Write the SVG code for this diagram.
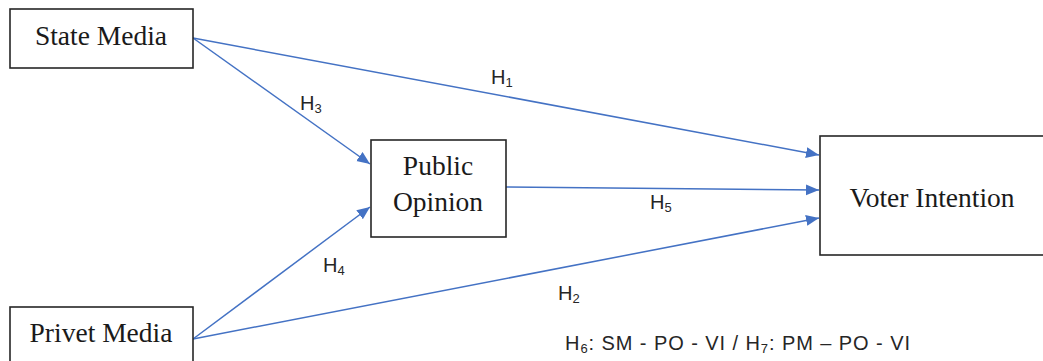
<svg xmlns="http://www.w3.org/2000/svg" width="1043" height="361" viewBox="0 0 1043 361">
<style>
.box{fill:#fff;stroke:#262626;stroke-width:1.6}
.nt{font-family:"Liberation Serif","Times New Roman",serif;font-size:27.5px;fill:#1a1a1a;text-anchor:middle}
.conn{stroke:#4472C4;stroke-width:1.5;fill:none}
.lb{font-family:"Liberation Sans",Arial,sans-serif;font-size:20px;fill:#262626}
.sub{font-size:13px}
</style>
<defs>
<marker id="ah" markerUnits="userSpaceOnUse" markerWidth="14" markerHeight="12" refX="13" refY="5.5" orient="auto">
<path d="M0,0 L13,5.5 L0,11 z" fill="#4472C4"/>
</marker>
</defs>
<rect width="1043" height="361" fill="#fff"/>
<g id="connectors">
<path class="conn" d="M193,38 L819,155" marker-end="url(#ah)"/>
<path class="conn" d="M193,38 L370,164" marker-end="url(#ah)"/>
<path class="conn" d="M506,187 L819,190" marker-end="url(#ah)"/>
<path class="conn" d="M193,339 L370,207" marker-end="url(#ah)"/>
<path class="conn" d="M193,339 L819,218" marker-end="url(#ah)"/>
</g>
<g id="state-media">
<rect class="box" x="10" y="9" width="183" height="59"/>
<text class="nt" x="101" y="45">State Media</text>
</g>
<g id="privet-media">
<rect class="box" x="10" y="307" width="183" height="70"/>
<text class="nt" x="101" y="342">Privet Media</text>
</g>
<g id="public-opinion">
<rect class="box" x="371" y="140" width="135" height="97"/>
<text class="nt" x="438" y="175">Public</text>
<text class="nt" x="438" y="211">Opinion</text>
</g>
<g id="voter-intention">
<rect class="box" x="820" y="136" width="240" height="119"/>
<text class="nt" x="932" y="207">Voter Intention</text>
</g>
<g id="labels">
<text class="lb" x="491" y="84">H<tspan class="sub" dy="3">1</tspan></text>
<text class="lb" x="300" y="110">H<tspan class="sub" dy="3">3</tspan></text>
<text class="lb" x="323" y="272">H<tspan class="sub" dy="3">4</tspan></text>
<text class="lb" x="650" y="209">H<tspan class="sub" dy="3">5</tspan></text>
<text class="lb" x="558" y="300">H<tspan class="sub" dy="3">2</tspan></text>
<text class="lb" x="565" y="350" textLength="345" lengthAdjust="spacing">H<tspan class="sub" dy="3">6</tspan><tspan dy="-3">: SM - PO - VI / H</tspan><tspan class="sub" dy="3">7</tspan><tspan dy="-3">: PM – PO - VI</tspan></text>
</g>
</svg>
